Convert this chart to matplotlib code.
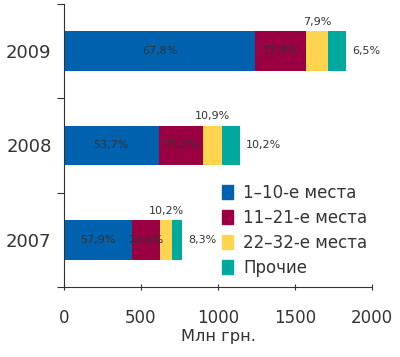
import matplotlib.pyplot as plt
import matplotlib.patches as mpatches

# --- données ---
annees = ["2007", "2008", "2009"]
totaux = [766, 1143, 1831]  # млн грн.
groupes = ["1–10-е места", "11–21-е места", "22–32-е места", "Прочие"]
parts = [
    [57.9, 53.7, 67.8],
    [23.6, 25.2, 17.9],
    [10.2, 10.9, 7.9],
    [8.3, 10.2, 6.5],
]
etiquettes = [
    ["57,9%", "53,7%", "67,8%"],
    ["23,6%", "25,2%", "17,9%"],
    ["10,2%", "10,9%", "7,9%"],
    ["8,3%", "10,2%", "6,5%"],
]
couleurs = ["#0061ae", "#9a0041", "#ffd54f", "#00a99d"]

plt.rcParams['font.family'] = ['DejaVu Sans']
texte = "#333333"

fig = plt.figure(figsize=(4, 3.57), dpi=100)
ax = fig.add_axes([0.16, 0.196, 0.77, 0.793])

y = list(range(len(annees)))
gauche = [0.0] * len(annees)
for k in range(len(groupes)):
    largeurs = [t * p / 100 for t, p in zip(totaux, parts[k])]
    ax.barh(y, largeurs, left=gauche, height=0.42, color=couleurs[k], label=groupes[k])
    for i in range(len(annees)):
        cx = gauche[i] + largeurs[i] / 2
        if k < 2:
            ax.text(cx, y[i], etiquettes[k][i], ha="center", va="center", fontsize=8, color=texte)
        elif k == 2:
            ax.text(cx, y[i] + 0.31, etiquettes[k][i], ha="center", va="center", fontsize=8, color=texte)
        else:
            ax.text(gauche[i] + largeurs[i] + 40, y[i], etiquettes[k][i], ha="left", va="center", fontsize=8, color=texte)
    gauche = [g + w for g, w in zip(gauche, largeurs)]

ax.set_xlim(0, 2000)
ax.set_ylim(-0.5, 2.5)
ax.set_xticks([0, 500, 1000, 1500, 2000])
ax.tick_params(axis="x", labelsize=12, colors=texte, direction="inout", length=5, pad=13)
ax.set_yticks([-0.5, 0.5, 1.5, 2.5])
ax.set_yticklabels([])
ax.tick_params(axis="y", direction="out", length=5, colors=texte)
ax.set_yticks(y, minor=True)
ax.set_yticklabels(annees, minor=True, fontsize=13)
ax.tick_params(axis="y", which="minor", length=0, pad=9, labelcolor=texte)
ax.set_xlabel("Млн грн.", fontsize=11.7, color=texte, labelpad=2)

for s in ["top", "right"]:
    ax.spines[s].set_visible(False)
for s in ["left", "bottom"]:
    ax.spines[s].set_color(texte)

poignees = [mpatches.Patch(color=c, label=g) for c, g in zip(couleurs, groupes)]
leg = ax.legend(handles=poignees, loc="upper left", bbox_to_anchor=(0.49, 0.387),
                frameon=False, fontsize=12, handlelength=0.7, handleheight=0.9,
                handletextpad=0.6, labelspacing=0.42, borderaxespad=0)
for t in leg.get_texts():
    t.set_color(texte)

fig.savefig("out.png", dpi=100)
